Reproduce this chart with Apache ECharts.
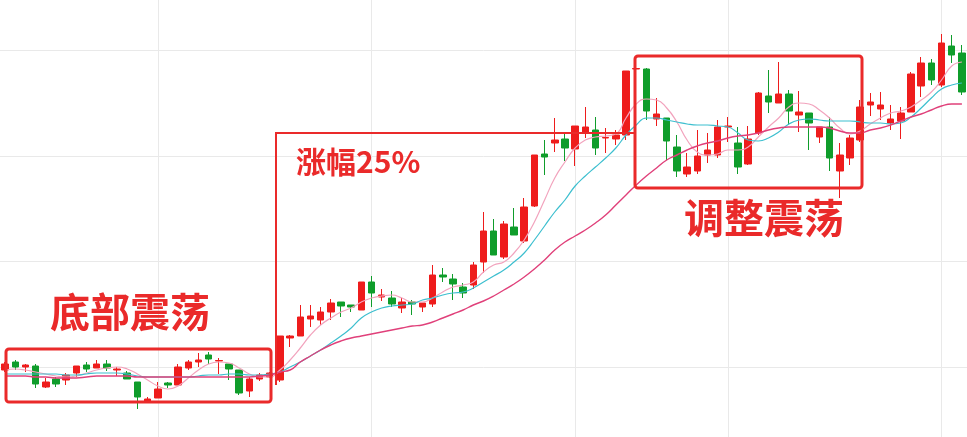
<!DOCTYPE html>
<html><head><meta charset="utf-8">
<script src="https://cdn.jsdelivr.net/npm/echarts@6/dist/echarts.min.js"></script>
<style>html,body{margin:0;padding:0;background:#fff}#c{width:967px;height:437px}</style>
</head><body><div id="c"></div>
<script>
// [open, close, low, high]
const candles = [
[11.0,11.6,10.8,11.8],[11.8,11.3,11.0,12.0],[11.3,11.5,10.8,11.6],[11.4,9.6,9.2,11.6],[9.3,9.8,9.2,10.2],
[10.1,9.6,9.3,10.3],[10.0,10.5,9.5,10.7],[10.7,11.4,10.3,11.4],[11.5,11.1,10.8,11.8],[11.2,11.6,11.2,12.0],
[11.6,11.2,10.9,12.0],[11.0,11.1,10.4,11.3],[10.7,10.1,10.1,10.9],[9.8,8.3,7.1,9.8],[7.9,8.1,7.9,8.3],
[8.2,9.1,8.2,9.8],[9.7,9.5,9.2,9.8],[9.5,11.3,9.5,11.6],[11.2,11.8,11.0,12.0],[11.8,12.0,11.3,12.7],
[12.5,12.1,11.6,12.8],[11.9,11.95,10.6,12.2],[11.6,11.1,10.0,11.6],[11.0,8.7,8.5,11.0],[8.9,10.1,8.3,10.3],
[10.1,10.5,9.9,10.7],[10.3,10.7,10.2,10.8],[10.0,14.4,9.8,14.4],[14.2,14.4,13.3,14.5],[14.4,16.3,14.4,17.5],
[16.1,16.4,15.3,17.5],[16.0,16.8,15.5,17.3],[16.8,17.7,16.0,18.1],[17.8,17.4,16.3,17.8],[17.5,17.3,16.8,17.5],
[17.0,19.8,17.0,19.8],[19.8,18.7,17.3,20.4],[18.3,18.5,17.9,19.1],[18.2,17.6,17.3,18.9],[17.2,17.8,16.7,18.2],
[17.8,17.6,16.5,18.0],[17.3,17.7,16.8,17.7],[17.6,20.5,17.3,21.5],[20.5,20.3,19.8,21.2],[20.1,19.6,18.0,20.6],
[19.3,18.7,18.2,19.7],[19.5,21.5,19.1,21.8],[21.8,24.9,20.7,26.8],[24.9,22.5,22.5,26.1],[22.3,25.6,22.1,25.9],
[25.3,24.5,24.5,27.2],[23.9,27.3,23.7,28.2],[27.4,32.5,27.3,32.5],[32.6,32.3,30.5,34.0],[33.7,34.0,32.8,36.2],
[34.1,33.2,31.9,34.7],[33.1,35.4,31.4,35.4],[34.7,35.3,34.2,37.3],[35.0,33.2,32.5,36.3],[34.2,34.25,32.7,35.2],
[34.1,34.5,33.5,35.0],[34.5,40.9,34.0,40.9],[41.1,41.15,39.8,42.1],[41.1,36.9,36.0,41.2],[36.1,36.6,35.4,38.2],
[36.2,33.9,32.0,36.2],[33.3,30.9,30.3,34.5],[30.6,31.3,30.3,32.7],[30.9,32.4,30.6,35.0],[32.5,33.0,31.7,34.7],
[32.5,35.3,32.2,36.0],[35.3,35.4,33.8,36.3],[33.7,31.3,30.6,35.3],[31.6,34.1,31.5,35.4],[34.7,38.7,34.5,38.8],
[38.4,37.8,36.7,41.0],[37.7,38.6,37.7,41.8],[38.6,36.9,35.5,39.0],[36.5,36.8,34.8,38.9],[36.7,35.7,33.0,36.7],
[34.3,35.3,33.7,35.3],[35.3,32.2,30.9,36.3],[30.9,32.5,28.2,33.7],[32.2,34.2,31.5,34.5],[34.0,37.3,33.8,38.0],
[37.5,37.8,36.4,38.7],[37.1,37.5,36.0,38.8],[35.7,36.1,35.0,37.5],[35.9,36.7,34.1,37.3],[36.8,40.6,36.8,40.8],
[39.4,41.7,38.3,42.3],[41.7,40.0,39.5,42.1],[39.5,43.7,39.3,44.6],[43.4,42.5,41.7,44.5],[42.7,38.8,38.5,43.5]
];
const maShort = [11.0,11.1,11.0,10.8,10.6,10.4,10.3,10.4,10.7,11.0,11.2,11.3,11.1,10.6,10.0,9.4,9.1,9.4,10.2,11.0,
11.6,11.8,11.7,11.2,10.6,10.3,10.3,11.0,12.0,13.2,14.5,15.5,16.2,16.8,17.2,17.8,18.2,18.4,18.5,18.2,
17.8,17.8,18.2,18.8,19.3,19.5,19.8,20.8,21.5,21.8,22.7,24.0,25.8,28.0,30.2,31.8,33.2,34.0,34.3,34.4,
34.6,36.2,37.6,38.1,38.0,37.2,35.8,34.0,32.8,32.5,32.6,33.0,33.0,33.3,34.3,35.3,36.2,37.3,37.7,37.6,
37.0,36.2,35.2,34.6,34.9,35.6,36.2,36.7,36.9,37.3,38.0,38.8,40.0,41.4,41.8];
const maMid = [10.6,10.6,10.6,10.6,10.6,10.6,10.5,10.5,10.6,10.7,10.7,10.7,10.6,10.4,10.3,10.3,10.3,10.3,10.3,10.4,
10.5,10.5,10.6,10.6,10.5,10.5,10.6,10.8,
11.3,11.8,12.4,13.0,13.7,14.4,15.2,16.2,16.8,17.2,17.4,17.5,17.6,18.0,18.2,18.5,18.7,18.8,19.2,19.8,
20.4,21.0,21.8,22.7,24.0,25.4,26.8,28.0,29.4,30.4,31.3,32.2,33.2,34.5,35.5,36.2,36.2,36.0,35.8,35.6,
35.5,35.5,35.4,35.3,34.7,34.0,33.9,34.2,34.8,35.6,36.0,36.1,36.0,35.9,35.9,35.9,35.8,35.7,35.7,35.6,
35.7,36.3,37.2,38.2,39.1,39.5,39.7];
const maLong = [10.4,10.4,10.4,10.3,10.3,10.2,10.2,10.2,10.3,10.4,10.4,10.4,10.4,10.3,10.3,10.3,10.3,10.3,10.3,10.3,
10.3,10.3,10.3,10.3,10.3,10.4,10.5,10.8,
11.0,11.8,12.4,13.0,13.5,13.9,14.2,14.4,14.6,14.8,15.0,15.2,15.4,15.5,15.8,16.2,16.6,17.0,17.5,17.9,
18.4,19.0,19.6,20.3,21.1,22.0,23.0,23.8,24.4,25.0,25.7,26.5,27.5,28.5,29.5,
30.4,31.2,32.0,32.5,33.0,33.4,33.7,33.9,34.2,34.4,34.5,34.7,35.0,35.2,35.3,35.3,35.3,35.3,35.2,34.9,
34.7,34.7,35.0,35.2,35.5,35.9,36.3,36.6,37.0,37.4,37.6,37.6];
const categories = candles.map((_, i) => 'D' + (i + 1));
const vGridIdx = [15, 36, 56, 71, 92];
const hGridVals = [11.3, 21.9, 32.4, 43.0];
const labels = ['底部震荡', '涨幅25%', '调整震荡'];

const RED = '#ee1c1c', GREEN = '#0f9d2b', BOX = '#ea2a2a';
const chart = echarts.init(document.getElementById('c'));
chart.setOption({
  animation: false,
  grid: {left: -1.6, top: 0, bottom: 0, width: candles.length * 10.2},
  xAxis: {type: 'category', data: categories, boundaryGap: true, show: false},
  yAxis: {type: 'value', min: 4.3, max: 48, show: false, splitLine: {show: false}},
  series: [
    {type: 'candlestick', data: candles, barWidth: 7,
     itemStyle: {color: RED, color0: GREEN, borderColor: RED, borderColor0: GREEN, borderWidth: 1},
     markLine: {silent: true, symbol: 'none', label: {show: false}, z: 0,
       lineStyle: {color: '#e9e9e9', width: 1, type: 'solid'},
       data: vGridIdx.map(i => ({xAxis: categories[i]})).concat(hGridVals.map(v => ({yAxis: v})))}},
    {type: 'line', data: maShort, showSymbol: false, smooth: true, lineStyle: {color: '#f2a3bd', width: 1.2}},
    {type: 'line', data: maMid, showSymbol: false, smooth: true, lineStyle: {color: '#3dbfcf', width: 1.2}},
    {type: 'line', data: maLong, showSymbol: false, smooth: true, lineStyle: {color: '#e0407a', width: 1.4}}
  ],
  graphic: [
    {type: 'rect', shape: {x: 6, y: 349, width: 265, height: 53, r: 3}, style: {fill: 'none', stroke: BOX, lineWidth: 3}, z: 100},
    {type: 'polyline', shape: {points: [[276, 385], [276, 133], [635, 133]]}, style: {fill: 'none', stroke: BOX, lineWidth: 2}, z: 100},
    {type: 'rect', shape: {x: 635, y: 56, width: 227, height: 132, r: 3}, style: {fill: 'none', stroke: BOX, lineWidth: 3}, z: 100},
    {type: 'text', x: 130, y: 312, style: {text: labels[0], fill: BOX, font: 'bold 40px "Noto Sans CJK SC"', align: 'center', verticalAlign: 'middle'}, z: 100},
    {type: 'text', x: 296, y: 162, style: {text: labels[1], fill: BOX, font: 'bold 30px "Noto Sans CJK SC"', align: 'left', verticalAlign: 'middle'}, z: 100},
    {type: 'text', x: 764, y: 218, style: {text: labels[2], fill: BOX, font: 'bold 40px "Noto Sans CJK SC"', align: 'center', verticalAlign: 'middle'}, z: 100}
  ]
});
</script></body></html>
